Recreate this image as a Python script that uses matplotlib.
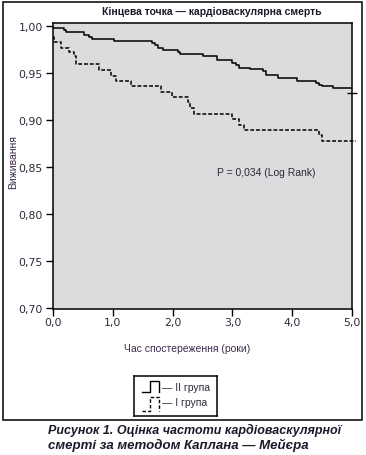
import matplotlib.pyplot as plt
from matplotlib.patches import Rectangle

# Криві Каплана-Мейєра
t_group2 = [0.0, 0.19, 0.22, 0.53, 0.61, 0.65, 1.03, 1.65, 1.70, 1.76, 1.84, 2.09, 2.13,
            2.51, 2.75, 3.00, 3.06, 3.11, 3.29, 3.51, 3.555, 3.76, 4.08, 4.40, 4.44, 4.50,
            4.68, 5.0]
s_group2 = [0.998, 0.996, 0.9936, 0.9907, 0.9889, 0.9865, 0.984, 0.9819, 0.9796, 0.9769,
            0.9744, 0.9723, 0.9705, 0.968, 0.9638, 0.9609, 0.9586, 0.9561, 0.9545, 0.9519,
            0.9481, 0.9446, 0.9421, 0.9398, 0.938, 0.9361, 0.934, 0.934]
t_group1 = [0.0, 0.03, 0.14, 0.28, 0.36, 0.39, 0.78, 0.97, 1.055, 1.30, 1.80, 1.99, 2.26,
            2.29, 2.36, 2.99, 3.11, 3.19, 4.44, 4.49, 5.06]
s_group1 = [0.9885, 0.9836, 0.9769, 0.9723, 0.9687, 0.9595, 0.9535, 0.9474, 0.942, 0.936,
            0.9297, 0.9244, 0.919, 0.9127, 0.9066, 0.9013, 0.8949, 0.8893, 0.8846, 0.8777,
            0.8777]
censor_t2 = [5.0]
censor_s2 = [0.9287]

x_ticks = [0.0, 1.0, 2.0, 3.0, 4.0, 5.0]
y_ticks = [0.70, 0.75, 0.80, 0.85, 0.90, 0.95, 1.00]
legend_labels = ['— II група', '— I група']

W, H = 366, 456
fig = plt.figure(figsize=(W / 100, H / 100), dpi=100)
fnt = 'Liberation Sans'

ax = fig.add_axes([52.7 / W, 1 - 310 / H, (352.3 - 52.7) / W, (310 - 24) / H])
ax.set_facecolor('#dcdcde')
ax.step(t_group2, s_group2, where='post', color='black', lw=1.1)
ax.step(t_group1, s_group1, where='post', color='black', lw=1.1,
        linestyle=(0, (2.5, 1.3)), clip_on=False)
ax.plot(censor_t2, censor_s2, linestyle='none', marker='_', markersize=6.5,
        markeredgewidth=1.0, color='black', clip_on=False)

ax.set_xlim(0, 5)
ax.set_ylim(0.699, 1.0035)
ax.set_xticks(x_ticks)
ax.set_xticklabels([f'{v:.1f}'.replace('.', ',') for v in x_ticks])
ax.set_yticks(y_ticks)
ax.set_yticklabels([f'{v:.2f}'.replace('.', ',') for v in y_ticks])
ax.tick_params(axis='x', length=5, width=1, pad=0.5, labelsize=7.8, colors='#2a2a38')
ax.tick_params(axis='y', length=5, width=1, pad=2, labelsize=7.8, colors='#2a2a38')
for lab in ax.get_xticklabels() + ax.get_yticklabels():
    lab.set_fontfamily('DejaVu Sans')
ax.tick_params(color='black')
for sp in ax.spines.values():
    sp.set_linewidth(1.1)

ax.text(2.74, 0.8445, 'P = 0,034 (Log Rank)', ha='left', va='center',
        fontsize=7.5, family=fnt, color='#2a2a38')

fig.text(212 / W, 1 - 12 / H, 'Кінцева точка — кардіоваскулярна смерть', ha='center',
         va='center', fontsize=7.5, fontweight='bold', family=fnt, color='#1a1a2a')
fig.text(13 / W, 1 - 162 / H, 'Виживання', rotation=90, ha='center', va='center',
         fontsize=7.5, family=fnt, color='#3d2b4f')
fig.text(187 / W, 1 - 349 / H, 'Час спостереження (роки)', ha='center', va='center',
         fontsize=7.5, family=fnt, color='#3d2b4f')

# Легенда в окремій рамці
lg = fig.add_axes([134 / W, 1 - 416.7 / H, 82.7 / W, 40 / H])
lg.set_xlim(0, 1)
lg.set_ylim(0, 1)
lg.set_xticks([])
lg.set_yticks([])
lg.set_facecolor('white')
for sp in lg.spines.values():
    sp.set_linewidth(1.1)
lg.plot([0.093, 0.193, 0.193, 0.306, 0.306], [0.585, 0.585, 0.875, 0.875, 0.585],
        color='black', lw=1.0)
lg.plot([0.093, 0.193, 0.193, 0.306, 0.306], [0.125, 0.125, 0.46, 0.46, 0.125],
        color='black', lw=1.0, linestyle=(0, (2.5, 1.5)))
lg.text(0.34, 0.71, legend_labels[0], ha='left', va='center', fontsize=7.5, family=fnt,
        color='#2a2a38')
lg.text(0.34, 0.335, legend_labels[1], ha='left', va='center', fontsize=7.5, family=fnt,
        color='#2a2a38')

# Зовнішня рамка
fig.patches.append(Rectangle((3 / W, 1 - 421 / H), 359 / W, 418 / H, transform=fig.transFigure,
                             fill=False, lw=1.1, edgecolor='black'))

fig.text(48 / W, 1 - 430 / H, 'Рисунок 1. Оцінка частоти кардіоваскулярної', ha='left',
         va='center', fontsize=9.0, fontweight='bold', style='italic', family=fnt, color='#1a1a2a')
fig.text(48 / W, 1 - 445 / H, 'смерті за методом Каплана — Мейєра', ha='left',
         va='center', fontsize=9.5, fontweight='bold', style='italic', family=fnt, color='#1a1a2a')

fig.savefig('out.png', dpi=100)
